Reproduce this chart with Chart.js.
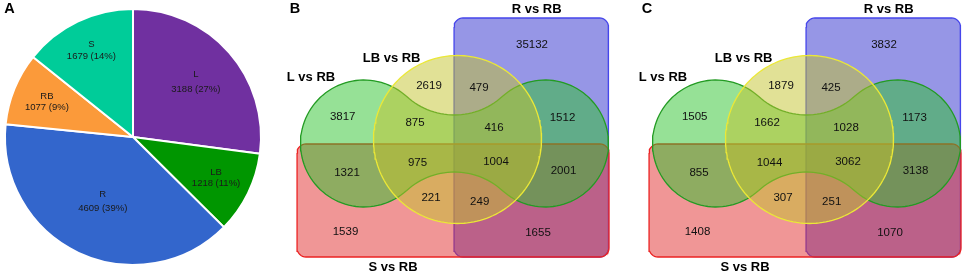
<!DOCTYPE html>
<html><head><meta charset="utf-8">
<script src="https://cdn.jsdelivr.net/npm/chart.js@4.4.1/dist/chart.umd.min.js"></script>
<style>
html,body{margin:0;padding:0;background:#fff;}
#wrap{position:relative;width:964px;height:275px;overflow:hidden;background:#fff;}
canvas{position:absolute;top:0;}
</style></head><body>
<div id="wrap">
<canvas id="pieA" width="267" height="275" style="left:0;width:267px;height:275px"></canvas>
<canvas id="vennB" width="340" height="275" style="left:280px;width:340px;height:275px"></canvas>
<canvas id="vennC" width="332" height="275" style="left:632px;width:332px;height:275px"></canvas>
</div>
<script>
// ---------- DATA ----------
const pieCategories = ['L', 'LB', 'R', 'RB', 'S'];
const pieValues = [3188, 1218, 4609, 1077, 1679];
const piePercents = [27, 11, 39, 9, 14];

const vennSetNames = ['R vs RB', 'S vs RB', 'L vs RB', 'LB vs RB'];
const vennRegionKeys = ['R', 'LB', 'LB&R', 'L', 'L&LB', 'L&LB&R', 'L&R', 'L&S', 'L&LB&S', 'L&LB&R&S', 'L&R&S', 'LB&S', 'LB&R&S', 'S', 'R&S'];
const vennValuesB = [35132, 2619, 479, 3817, 875, 416, 1512, 1321, 975, 1004, 2001, 221, 249, 1539, 1655];
const vennValuesC = [3832, 1879, 425, 1505, 1662, 1028, 1173, 855, 1044, 3062, 3138, 307, 251, 1408, 1070];

// ---------- LAYOUT / STYLE ----------
const FONT = '"Liberation Sans", Arial, Helvetica, sans-serif';
const pieColors = ['#7030A0', '#009600', '#3366CC', '#FB9A3A', '#00CC99'];
const PIE_LAYOUT = { labelDist: [83.6, 92.5, 71, 93, 96], lineGap: [15, 11.7, 13.5, 11.2, 11.6], letter: [9.5, 9] };

const VENN = {
  width: 340, height: 275,
  blueRect: { x0: 174, y0: 18, x1: 328.5, y1: 257, r: 9 },
  redRect: { x0: 17, y0: 144, x1: 329, y1: 257, r: 9 },
  circle: { cx: 177.5, cy: 139.5, r: 84 },
  blob: { cxL: 84, cxR: 265, cy: 143.5, r: 63.5, w: 28.5 },
  titlePos: [[256.7, 9.5], [113, 267], [31, 77.5], [111.6, 58]],
  regionPos: [[252, 45], [149, 86], [199, 87.5], [62.7, 116.7], [135, 123], [214, 127.7], [282.5, 117.7],
              [67, 172.7], [137.5, 162.7], [216, 162.3], [283.5, 171], [151, 198.3], [199.7, 201.7], [65.5, 232], [258, 233]],
  letterPos: [15, 9]
};
const STY = {
  blue: { fill: 'rgba(45,45,205,0.5)', stroke: 'rgb(70,70,235)' },
  red: { fill: 'rgba(225,45,45,0.5)', stroke: 'rgb(235,35,35)' },
  green: { fill: 'rgba(45,195,45,0.5)', stroke: 'rgb(35,155,35)' },
  yellow: { fill: 'rgba(195,195,45,0.5)', stroke: 'rgb(235,232,55)' }
};

// ---------- GEOMETRY HELPERS ----------
function arcPts(cx, cy, r, a0, a1, n) {
  const pts = [];
  for (let i = 0; i <= n; i++) {
    const a = a0 + (a1 - a0) * i / n;
    pts.push({ x: cx + r * Math.cos(a), y: cy + r * Math.sin(a) });
  }
  return pts;
}
function rectPts(R) {
  const { x0, y0, x1, y1, r } = R;
  let p = [];
  p = p.concat(arcPts(x0 + r, y0 + r, r, Math.PI, 1.5 * Math.PI, 8));
  p = p.concat(arcPts(x1 - r, y0 + r, r, 1.5 * Math.PI, 2 * Math.PI, 8));
  p = p.concat(arcPts(x1 - r, y1 - r, r, 0, 0.5 * Math.PI, 8));
  p = p.concat(arcPts(x0 + r, y1 - r, r, 0.5 * Math.PI, Math.PI, 8));
  p.push(p[0]);
  return p;
}
function circlePts(C) {
  return arcPts(C.cx, C.cy, C.r, 0, 2 * Math.PI, 160);
}
function blobPts(B) {
  const { cxL, cxR, cy, r, w } = B;
  const cm = (cxL + cxR) / 2, d = cm - cxL;
  const R2 = (d * d + w * w - r * r) / (2 * (r - w));
  const h = w + R2;
  let p = [];
  // left lobe: from bottom tangent around left to top tangent
  p = p.concat(arcPts(cxL, cy, r, Math.atan2(h, d), 2 * Math.PI + Math.atan2(-h, d), 80));
  // top waist
  p = p.concat(arcPts(cm, cy - h, R2, Math.atan2(h, -d), Math.atan2(h, d), 30));
  // right lobe
  p = p.concat(arcPts(cxR, cy, r, Math.atan2(-h, -d), Math.atan2(h, -d), 80));
  // bottom waist
  p = p.concat(arcPts(cm, cy + h, R2, Math.atan2(-h, d), Math.atan2(-h, -d), 30));
  p.push(p[0]);
  return p;
}
function shapeDS(points, st) {
  return { data: points, showLine: true, fill: 'shape', backgroundColor: st.fill, borderColor: st.stroke,
           borderWidth: 1.3, pointRadius: 0, pointHoverRadius: 0, tension: 0, clip: false };
}

// ---------- PIE (A) ----------
const pieLabelPlugin = {
  id: 'pieLabels',
  afterDatasetsDraw(chart) {
    const ctx = chart.ctx;
    const meta = chart.getDatasetMeta(0);
    ctx.save();
    ctx.fillStyle = '#1a1a1a';
    ctx.textAlign = 'center';
    ctx.textBaseline = 'middle';
    ctx.font = '9.5px ' + FONT;
    meta.data.forEach((arc, i) => {
      const { x, y, startAngle, endAngle } = arc.getProps(['x', 'y', 'startAngle', 'endAngle'], true);
      const mid = (startAngle + endAngle) / 2;
      const dd = PIE_LAYOUT.labelDist[i], g = PIE_LAYOUT.lineGap[i];
      const cx = x + Math.cos(mid) * dd, cy = y + Math.sin(mid) * dd;
      ctx.fillText(pieCategories[i], cx, cy - g / 2);
      ctx.fillText(pieValues[i] + ' (' + piePercents[i] + '%)', cx, cy + g / 2);
    });
    ctx.font = 'bold 14.5px ' + FONT;
    ctx.fillStyle = '#000';
    ctx.fillText('A', PIE_LAYOUT.letter[0], PIE_LAYOUT.letter[1]);
    ctx.restore();
  }
};
new Chart(document.getElementById('pieA'), {
  type: 'pie',
  data: { labels: pieCategories, datasets: [{ data: pieValues, backgroundColor: pieColors, borderColor: '#ffffff', borderWidth: 2 }] },
  options: {
    responsive: false, animation: false, devicePixelRatio: 1, events: [],
    layout: { padding: { left: 4, right: 5, top: 8, bottom: 9 } },
    plugins: { legend: { display: false }, tooltip: { enabled: false } }
  },
  plugins: [pieLabelPlugin]
});

// ---------- VENN (B, C) ----------
function makeVennText(values, letter) {
  return {
    id: 'vennText',
    afterDatasetsDraw(chart) {
      const { ctx, scales: { x, y } } = chart;
      ctx.save();
      ctx.textAlign = 'center';
      ctx.textBaseline = 'middle';
      ctx.fillStyle = '#111';
      ctx.font = '11.5px ' + FONT;
      values.forEach((v, i) => {
        const p = VENN.regionPos[i];
        ctx.fillText(String(v), x.getPixelForValue(p[0]), y.getPixelForValue(p[1]));
      });
      ctx.fillStyle = '#000';
      ctx.font = 'bold 13px ' + FONT;
      vennSetNames.forEach((n, i) => {
        const p = VENN.titlePos[i];
        ctx.fillText(n, x.getPixelForValue(p[0]), y.getPixelForValue(p[1]));
      });
      ctx.font = 'bold 14.5px ' + FONT;
      ctx.fillText(letter, x.getPixelForValue(VENN.letterPos[0]), y.getPixelForValue(VENN.letterPos[1]));
      ctx.restore();
    }
  };
}
function vennChart(id, values, letter, w) {
  return new Chart(document.getElementById(id), {
    type: 'scatter',
    data: { datasets: [
      shapeDS(circlePts(VENN.circle), STY.yellow),
      shapeDS(blobPts(VENN.blob), STY.green),
      shapeDS(rectPts(VENN.redRect), STY.red),
      shapeDS(rectPts(VENN.blueRect), STY.blue)
    ] },
    options: {
      responsive: false, animation: false, devicePixelRatio: 1, events: [],
      layout: { padding: 0 },
      scales: {
        x: { type: 'linear', min: 0, max: w, display: false },
        y: { type: 'linear', min: 0, max: VENN.height, reverse: true, display: false }
      },
      plugins: { legend: { display: false }, tooltip: { enabled: false } }
    },
    plugins: [makeVennText(values, letter)]
  });
}
vennChart('vennB', vennValuesB, 'B', 340);
vennChart('vennC', vennValuesC, 'C', 332);
</script>
</body></html>
